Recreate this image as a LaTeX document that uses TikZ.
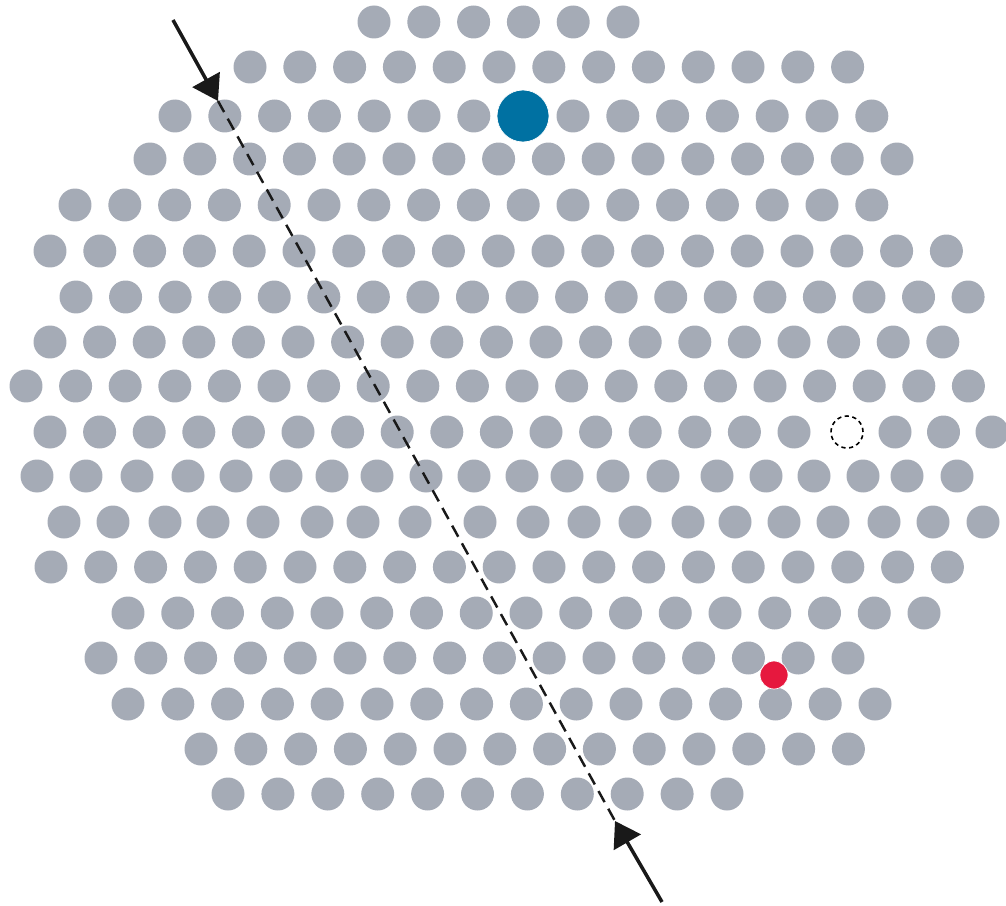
\documentclass[tikz,border=0pt]{standalone}
\usetikzlibrary{arrows.meta}
\definecolor{RodGray}{RGB}{165,171,182}
\definecolor{DopantBlue}{RGB}{0,113,162}
\definecolor{ImpRed}{RGB}{230,24,62}

\begin{document}
\begin{tikzpicture}[
    x=0.02cm, y=-0.02cm,
    rod/.style={fill=RodGray},
    bigrod/.style={circle, fill=DopantBlue, draw=white, line width=0.4pt, minimum size=1.04cm, inner sep=0pt},
    smallrod/.style={circle, fill=ImpRed, draw=white, line width=0.4pt, minimum size=0.56cm, inner sep=0pt},
    vacancy/.style={circle, draw=black, line width=0.9pt, dash pattern=on 2.4pt off 2pt, minimum size=0.64cm, inner sep=0pt},
    arrowline/.style={draw=black!90, line width=2pt, -{Triangle[length=14pt,width=17.5pt]}},
    cutline/.style={draw=black!90, line width=1.4pt, dash pattern=on 7.2pt off 4.3pt}
]
\useasboundingbox (0,0) rectangle (1006,905);

% Place rods: y / first x / count / spacing
\foreach \yy/\xo/\nn/\dx in {22/374/6/49.8, 67/250/13/49.8,
    116/175/7/49.8, 116/573/7/49.8, 159/150/16/49.8, 205/75/17/49.8,
    251/50/19/49.8, 297/76/19/49.56, 342/50/19/49.6, 386/26/20/49.6,
    432/50/16/49.6, 432/895/3/48.5, 567/51/19/49.8, 613/128/17/49.75,
    658/101/16/49.8, 704/128/16/49.8, 749/201/14/49.8, 794/228/11/49.9}{
  \foreach \i in {1,...,\nn}
    \fill[rod] ({\xo+(\i-1)*\dx},\yy) circle[radius=0.33cm];
}
% the two disordered rows
\foreach \xx in {37,86,137,188,236,286,332,377,426,474,522,567,613,663,717,766,814,863,907,957}
  \fill[rod] (\xx,476) circle[radius=0.33cm];
\foreach \xx in {64,113,165,213,263,317,363,415,480,533,584,635,688,735,784,833,884,933,983}
  \fill[rod] (\xx,522) circle[radius=0.33cm];

% Special sites
\node[bigrod] (dopant) at (523,116) {};
\node[smallrod] (impurity) at (774,675) {};
\node[vacancy] (vacancy) at (847,432) {};

% Cut line with arrows
\coordinate (topStart) at (173,20);
\coordinate (topTip) at (218,101);
\coordinate (botTip) at (615,821);
\coordinate (botStart) at (662,902);
\draw[cutline] (topTip) -- (botTip);
\draw[arrowline] (topStart) -- (topTip);
\draw[arrowline] (botStart) -- (botTip);
\end{tikzpicture}
\end{document}
